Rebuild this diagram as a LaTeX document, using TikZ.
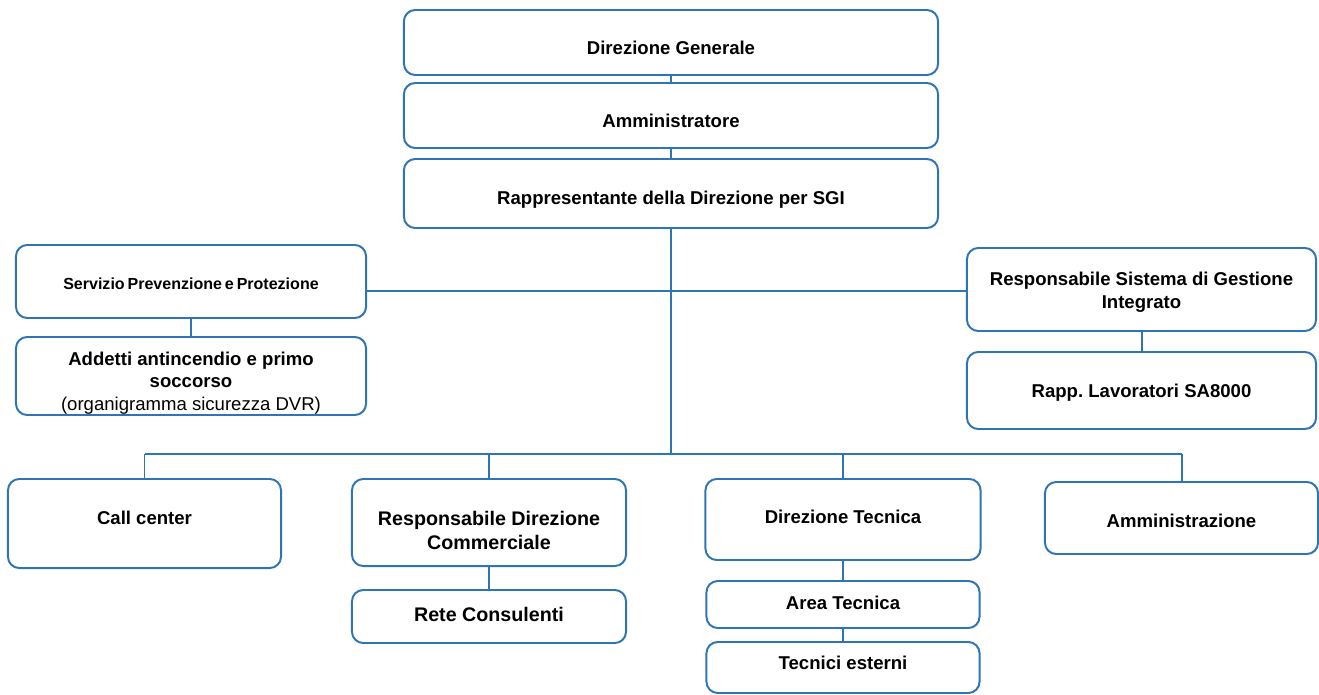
\documentclass[tikz,border=0pt]{standalone}
\usepackage{fontspec}
\setmainfont{Liberation Sans}
\frenchspacing
\definecolor{orgblue}{RGB}{46,117,182}
\newcommand{\tightwords}{\spaceskip=0.18em\relax}
\newcommand{\pushdown}[1]{\rule{0pt}{#1}}     % lowers the text in its box
\newcommand{\pushup}[1]{\rule[-#1]{0pt}{#1}}  % raises the text in its box

\tikzset{   orgbox/.style={draw=orgblue,rounded corners=8pt,line width=1.4pt,fill=white,align=center,inner sep=2pt,
                font=\bfseries\fontsize{13.2}{16}\selectfont},
            bigtext/.style={font=\bfseries\fontsize{14}{17}\selectfont},
            conn/.style={draw=orgblue,line width=1.4pt},
}

\begin{document}
\begin{tikzpicture}[x=0.025cm,y=-0.025cm]
    \useasboundingbox (0,0) rectangle (1319,695);

    \node[orgbox,minimum width=13.35cm,minimum height=1.625cm] (dg) at (671,42.5) {\pushdown{17.4pt}Direzione Generale}; % top column
    \node[orgbox,minimum width=13.35cm,minimum height=1.625cm] (amm) at (671,115.5) {\pushdown{17.4pt}Amministratore};
    \node[orgbox,minimum width=13.35cm,minimum height=1.725cm] (rdd) at (671,193.5) {\pushdown{18.2pt}Rappresentante della Direzione per SGI};

    \node[orgbox,minimum width=8.75cm,minimum height=1.825cm,font={\bfseries\fontsize{11.4}{14}\selectfont}] (spp) at (191,281.5) {\tightwords\pushdown{11.9pt}Servizio Prevenzione e Protezione}; % staff left
    \node[orgbox,inner ysep=0pt,minimum width=8.75cm,minimum height=1.95cm] (add) at (191,376) {\pushdown{19.6pt}Addetti antincendio e primo\\soccorso\\\mdseries(organigramma sicurezza DVR)};

    \node[orgbox,minimum width=8.725cm,minimum height=2.075cm] (rsg) at (1141.5,289.5) {\pushdown{13.2pt}Responsabile Sistema di Gestione\\Integrato}; % staff right
    \node[orgbox,minimum width=8.725cm,minimum height=1.925cm] (rls) at (1141.5,390.5) {\pushdown{13.2pt}Rapp. Lavoratori SA8000};

    \node[orgbox,minimum width=6.825cm,minimum height=2.225cm] (cc) at (144.5,523.5) {Call center\pushup{7.8pt}}; % bottom row
    \node[orgbox,bigtext,minimum width=6.85cm,minimum height=2.175cm] (rdc) at (489,522.5) {\pushdown{21.6pt}Responsabile Direzione\\Commerciale};
    \node[orgbox,minimum width=6.875cm,minimum height=2.025cm] (dt) at (843,519.5) {Direzione Tecnica\pushup{3.6pt}};
    \node[orgbox,minimum width=6.825cm,minimum height=1.8cm] (amz) at (1181.5,518) {\pushdown{13.9pt}Amministrazione};

    \node[orgbox,bigtext,minimum width=6.85cm,minimum height=1.325cm] (rc) at (489,616.5) {Rete Consulenti\pushup{2.8pt}};
    \node[orgbox,minimum width=6.825cm,minimum height=1.175cm] (at) at (843,604.5) {Area Tecnica\pushup{2.1pt}};
    \node[orgbox,minimum width=6.825cm,minimum height=1.275cm] (te) at (843,667.5) {Tecnici esterni\pushup{6.4pt}};

    \coordinate (midbus) at (671,291); % bus lines
    \coordinate (lowbus) at (671,454);

    \draw[conn] (dg.south) -- (amm.north);
    \draw[conn] (amm.south) -- (rdd.north);
    \draw[conn] (rdd.south) -- (lowbus);
    \draw[conn] (spp.east |- midbus) -- (rsg.west |- midbus);
    \draw[conn] (spp.south) -- (add.north);
    \draw[conn] (rsg.south) -- (rls.north);
    \draw[conn] (cc.north |- lowbus) -- (amz.north |- lowbus);
    \foreach \n in {cc,rdc,dt,amz}
        \draw[conn] (\n.north |- lowbus) -- (\n.north);
    \draw[conn] (rdc.south) -- (rc.north);
    \draw[conn] (dt.south) -- (at.north);
    \draw[conn] (at.south) -- (te.north);
\end{tikzpicture}
\end{document}
